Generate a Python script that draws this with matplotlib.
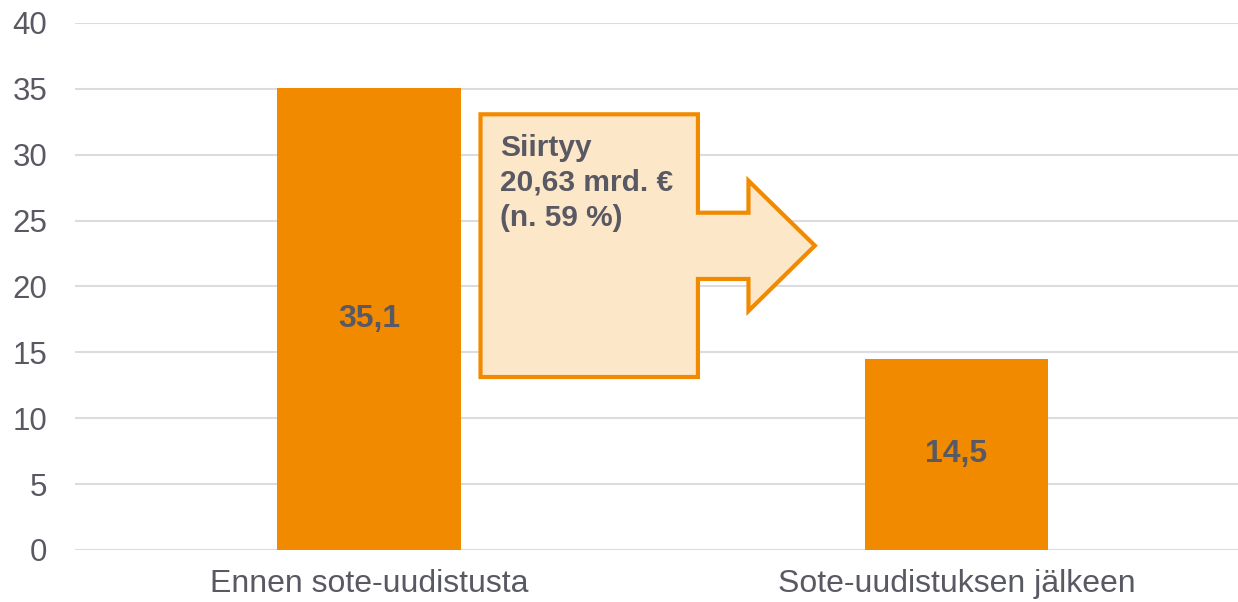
import matplotlib
matplotlib.use("Agg")
import matplotlib.pyplot as plt
from matplotlib.patches import Polygon

categories = ["Ennen sote-uudistusta", "Sote-uudistuksen jälkeen"]
values = [35.1, 14.5]
value_labels = ["35,1", "14,5"]
yticks = [0, 5, 10, 15, 20, 25, 30, 35, 40]
arrow_text = "Siirtyy\n20,63 mrd. €\n(n. 59 %)"

ORANGE = "#F28A00"
PEACH = "#FDE7C9"
TEXT = "#595963"
GRID = "#DCDCE0"

plt.rcParams['font.family'] = ['Liberation Sans', 'DejaVu Sans']

fig = plt.figure(figsize=(12.38, 6.02), dpi=100)
ax = fig.add_axes([0.0606, 0.0864, 0.9394, 0.8754])

x = list(range(len(categories)))
ax.bar(x, values, width=0.313, color=ORANGE, zorder=3)
for xi, v, lab in zip(x, values, value_labels):
    ax.text(xi, v / 2, lab, ha='center', va='center', fontsize=23,
            fontweight='bold', color=TEXT, zorder=5)

ax.set_xlim(-0.5, 1.479)
ax.set_ylim(0, 40)
ax.set_yticks(yticks)
ax.set_xticks(x)
ax.set_xticklabels(categories)
ax.tick_params(axis='y', length=0, pad=20, labelsize=22.5, labelcolor=TEXT)
ax.tick_params(axis='x', length=0, pad=14, labelsize=23, labelcolor=TEXT)
for s in ax.spines.values():
    s.set_visible(False)
ax.grid(axis='y', color=GRID, linewidth=1.5, zorder=0)
ax.set_axisbelow(True)

# Block arrow (annotation shape)
pts = [(0.190, 33.07), (0.560, 33.07), (0.560, 25.60), (0.646, 25.60),
       (0.646, 28.03), (0.759, 23.10), (0.646, 18.14), (0.646, 20.57),
       (0.560, 20.57), (0.560, 13.13), (0.190, 13.13)]
arrow = Polygon(pts, closed=True, facecolor=PEACH, edgecolor=ORANGE,
                linewidth=3, joinstyle='miter', zorder=4)
ax.add_patch(arrow)
ax.text(0.223, 31.6, arrow_text, ha='left', va='top', fontsize=21.5,
        fontweight='bold', color=TEXT, linespacing=1.32, zorder=5)

fig.savefig("out.png", dpi=100)
